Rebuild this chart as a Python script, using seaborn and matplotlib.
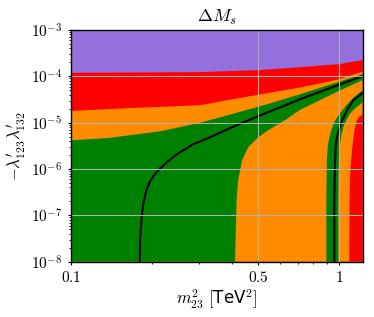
import matplotlib
matplotlib.use("Agg")
import matplotlib.pyplot as plt
import matplotlib.ticker as mticker
import seaborn as sns

# axis ranges: x = m23^2 [TeV^2], y = -lambda'123 lambda'132
x_min, x_max = 0.1, 1.22
y_min, y_max = 1e-8, 1e-3

# purple / red boundary
purple_x = [0.1, 0.3, 0.5, 0.72, 1.0, 1.22]
purple_y = [1.19e-4, 1.23e-4, 1.36e-4, 1.58e-4, 1.84e-4, 2.24e-4]

# red / orange boundary
red_x = [0.1, 0.1618, 0.3029, 0.4022, 0.5387, 0.7153, 1.0, 1.22]
red_y = [1.79e-5, 2.05e-5, 2.38e-5, 3.21e-5, 4.33e-5, 5.75e-5, 8.70e-5, 1.25e-4]

# red strip on the right, its left edge
strip_x = [1.090, 1.092, 1.099, 1.115, 1.138, 1.162, 1.187, 1.22]
strip_y = [1e-8, 2.09e-7, 9.33e-7, 2.53e-6, 6.85e-6, 1.13e-5, 1.34e-5, 1.52e-5]

# main green region, upper and lower edge
green_top_x = [0.1, 0.1398, 0.2148, 0.3029, 0.4022, 0.5387, 0.7153, 1.0, 1.22]
green_top_y = [4.16e-6, 4.71e-6, 6.51e-6, 9.95e-6, 1.56e-5, 2.50e-5, 4.12e-5, 7.68e-5, 1.115e-4]
green_low_x = [0.4093, 0.4111, 0.4146, 0.4200, 0.4346, 0.4575, 0.4943, 0.5387,
               0.5672, 0.6397, 0.7153, 1.0, 1.22]
green_low_y = [1e-8, 3.31e-8, 2.09e-7, 5.66e-7, 1.535e-6, 2.93e-6, 4.60e-6, 6.68e-6,
               7.95e-6, 1.215e-5, 1.90e-5, 4.90e-5, 8.27e-5]

# second green band near m23^2 ~ 1
band_left_x = [0.8943, 0.8943, 0.8982, 0.9059, 0.9218, 0.9417, 0.9663, 1.0, 1.053, 1.128, 1.22]
band_left_y = [1e-8, 2.09e-7, 1.535e-6, 3.24e-6, 5.34e-6, 7.95e-6, 1.13e-5, 1.52e-5, 2.26e-5, 3.46e-5, 5.03e-5]
band_right_x = [0.9915, 0.9915, 0.9957, 1.0044, 1.0174, 1.035, 1.062, 1.099, 1.148, 1.22]
band_right_y = [1e-8, 2.09e-7, 1.535e-6, 3.24e-6, 5.34e-6, 7.95e-6, 1.13e-5, 1.60e-5, 2.05e-5, 2.76e-5]

# central value contours
line1_x = [0.1809, 0.1814, 0.1840, 0.1864, 0.1913, 0.1972, 0.2041, 0.2148, 0.2300,
           0.2480, 0.2852, 0.3301, 0.4022, 0.4985, 0.7153, 1.0, 1.22]
line1_y = [1e-8, 3.31e-8, 9.9e-8, 1.80e-7, 3.44e-7, 5.39e-7, 7.27e-7, 1.015e-6, 1.46e-6,
           2.07e-6, 3.41e-6, 4.83e-6, 8.15e-6, 1.375e-5, 3.21e-5, 6.61e-5, 1.01e-4]
line2_x = [0.958, 0.958, 0.9645, 0.9703, 0.9829, 1.0044, 1.026, 1.068, 1.128, 1.22]
line2_y = [1e-8, 2.09e-7, 1.535e-6, 3.24e-6, 5.34e-6, 7.95e-6, 1.13e-5, 1.855e-5, 3.05e-5, 4.33e-5]

xtick_vals = [0.1, 0.5, 1.0]
xtick_labels = ['$0.1$', '$0.5$', '$1$']
ytick_vals = [1e-8, 1e-7, 1e-6, 1e-5, 1e-4, 1e-3]
ytick_labels = [r'$10^{-8}$', r'$10^{-7}$', r'$10^{-6}$', r'$10^{-5}$', r'$10^{-4}$', r'$10^{-3}$']

sns.set_style("ticks", rc={"axes.edgecolor": "black", "text.color": "black",
                           "xtick.color": "black", "ytick.color": "black",
                           "axes.labelcolor": "black"})
plt.rcParams['font.family'] = ['DejaVu Sans']
plt.rcParams['mathtext.fontset'] = 'cm'

fig = plt.figure(figsize=(3.74, 3.17), dpi=100)
ax = fig.add_axes([70.7 / 374, 1 - 261.7 / 317, (362.5 - 70.7) / 374, (261.7 - 30) / 317])
ax.set_xscale('log')
ax.set_yscale('log')
ax.set_facecolor('#9370db')

# painted from the outside in
ax.fill([x_min] + purple_x + [x_max], [y_min] + purple_y + [y_min], color='#ff0000', lw=0)
ax.fill([x_min] + red_x + [x_max], [y_min] + red_y + [y_min], color='#ff8c00', lw=0)
ax.fill(strip_x + [x_max], strip_y + [y_min], color='#ff0000', lw=0)
ax.fill([x_min] + green_top_x + green_low_x[::-1], [y_min] + green_top_y + green_low_y[::-1],
        color='#008000', lw=0)
ax.fill(band_left_x + band_right_x[::-1], band_left_y + band_right_y[::-1], color='#008000', lw=0)

sns.lineplot(x=line1_x, y=line1_y, sort=False, estimator=None, color='black', lw=1.5, ax=ax)
sns.lineplot(x=line2_x, y=line2_y, sort=False, estimator=None, color='black', lw=1.5, ax=ax)

ax.set_xlim(x_min, x_max)
ax.set_ylim(y_min, y_max)
ax.set_xticks(xtick_vals)
ax.set_xticklabels(xtick_labels)
ax.xaxis.set_minor_formatter(mticker.NullFormatter())
ax.set_yticks(ytick_vals)
ax.set_yticklabels(ytick_labels)
ax.yaxis.set_minor_locator(mticker.LogLocator(base=10, subs=range(2, 10), numticks=20))
ax.yaxis.set_minor_formatter(mticker.NullFormatter())
ax.tick_params(which='major', length=2.5, width=0.8, labelsize=11, direction='out')
ax.tick_params(which='minor', length=1.5, width=0.6, direction='out')

ax.set_axisbelow(False)
ax.grid(True, which='major', color='#b0b0b0', lw=0.8)
for s in ax.spines.values():
    s.set_linewidth(1.0)
    s.set_zorder(3)

ax.set_title(r'$\Delta M_s$', fontsize=13)
ax.set_xlabel(r'$m_{23}^2\ [$TeV$^2]$', fontsize=12, labelpad=2)
ax.set_ylabel(r'$-\lambda^\prime_{123}\lambda^\prime_{132}$', fontsize=12, labelpad=2)

fig.savefig('out.png', dpi=100)
